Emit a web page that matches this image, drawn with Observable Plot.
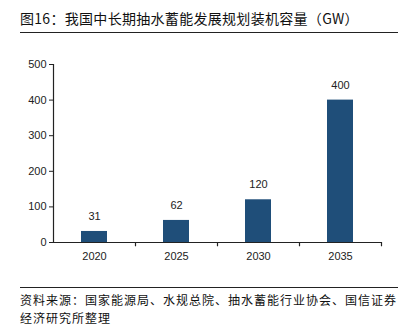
<!DOCTYPE html>
<html><head><meta charset="utf-8">
<script src="https://cdn.jsdelivr.net/npm/d3@7"></script>
<script src="https://cdn.jsdelivr.net/npm/@observablehq/plot@0.6"></script>
<style>
body{margin:0;background:#fff;width:407px;height:326px;position:relative;overflow:hidden;font-family:"Noto Sans CJK SC",sans-serif;}
#title{position:absolute;left:20px;top:8px;font-size:14px;color:#111;white-space:nowrap;letter-spacing:0.3px;}
#hr1{position:absolute;left:20px;top:32px;width:378px;height:0;border-top:1.2px solid #222;}
#chart{position:absolute;left:0;top:40px;}
#hr2{position:absolute;left:20px;top:287px;width:378px;height:0;border-top:1.2px solid #222;}
#caption{position:absolute;left:20px;top:291px;font-size:12px;letter-spacing:1px;line-height:17.5px;color:#111;white-space:nowrap;}
#caption div{height:17.5px;}
</style></head>
<body>
<div id="title">图16：我国中长期抽水蓄能发展规划装机容量（GW）</div>
<div id="hr1"></div>
<div id="chart"></div>
<div id="hr2"></div>
<div id="caption"><div>资料来源：国家能源局、水规总院、抽水蓄能行业协会、国信证券</div><div>经济研究所整理</div></div>
<script>
const years = ["2020", "2025", "2030", "2035"];
const capacity = [31, 62, 120, 400];
const yTicks = [0, 100, 200, 300, 400, 500];
const data = years.map((y, i) => ({year: y, value: capacity[i]}));
const step = (407 - 53 - 26) / years.length;
const plot = Plot.plot({
  width: 407, height: 240,
  marginTop: 24, marginBottom: 38, marginLeft: 53, marginRight: 26,
  style: {fontFamily: "Liberation Sans, Arial, sans-serif", fontSize: "11px", color: "#222", background: "#fff"},
  x: {domain: years, paddingInner: 0.68, paddingOuter: 0.34, label: null},
  y: {domain: [0, 500], ticks: yTicks, label: null},
  marks: [
    Plot.barY(data, {x: "year", y: "value", fill: "#1f4e79"}),
    Plot.text(data, {x: "year", y: "value", text: d => String(d.value), dy: -15, fontSize: 11, fill: "#222"}),
    Plot.axisY({ticks: yTicks, tickSize: 4, tickPadding: 3, label: null, fontSize: 11, stroke: "#222"}),
    Plot.axisX({tickSize: 0, tickPadding: 10, label: null, fontSize: 11}),
    Plot.ruleY([0], {stroke: "#222", strokeWidth: 1.2}),
    Plot.ruleX([years[0]], {x: d => d, dx: -step / 2, y1: 0, y2: 500, stroke: "#222", strokeWidth: 1.2}),
    Plot.ruleX(years, {x: d => d, dx: step / 2, y1: 0, y2: -12, stroke: "#222", strokeWidth: 1.2})
  ]
});
document.getElementById("chart").appendChild(plot);
</script>
</body></html>
